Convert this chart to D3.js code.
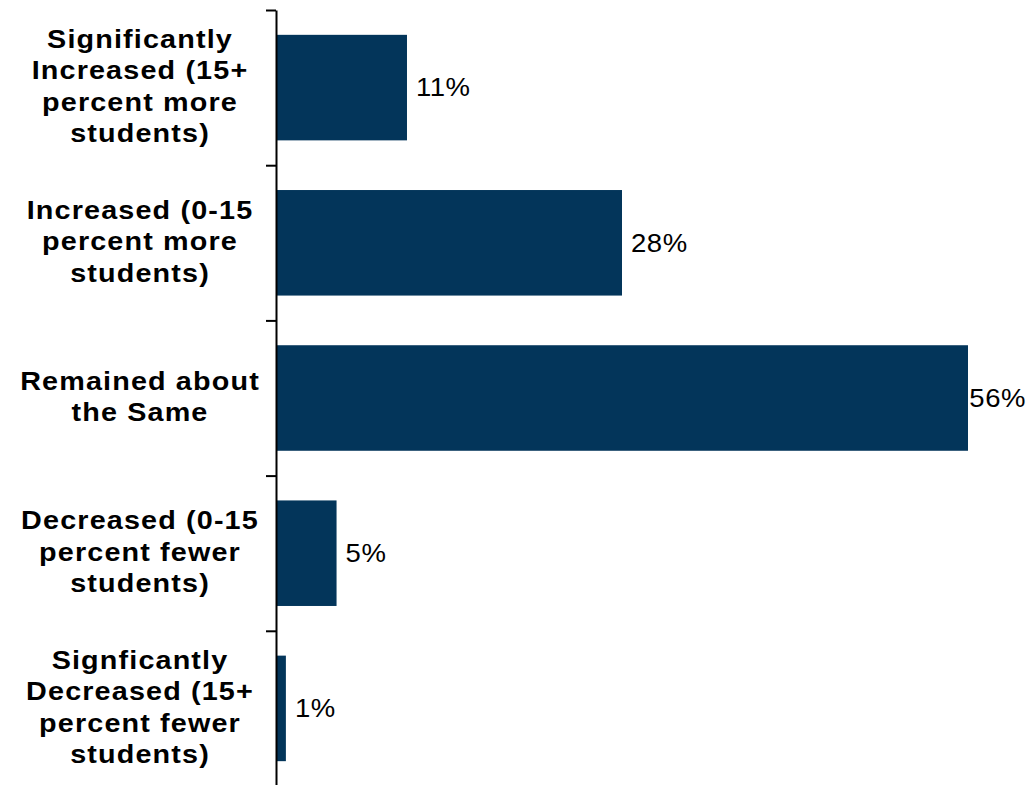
<!DOCTYPE html>
<html lang="en">
<head>
<meta charset="utf-8">
<title>Enrollment change</title>
<script src="https://cdn.jsdelivr.net/npm/d3@7"></script>
<style>
    body { margin: 0; background: white; }
    .cat { font-family: "Liberation Sans", Arial, sans-serif; font-weight: bold; font-size: 25px; letter-spacing: 1px; fill: #000; }
    .val { font-family: "Liberation Sans", Arial, sans-serif; font-size: 25px; letter-spacing: 0.5px; fill: #000; }
</style>
</head>
<body>
<div id="chart"></div>
<script>
    // categories (split into the lines they wrap to)
    var categories = [
        ["Significantly", "Increased (15+", "percent more", "students)"],
        ["Increased (0-15", "percent more", "students)"],
        ["Remained about", "the Same"],
        ["Decreased (0-15", "percent fewer", "students)"],
        ["Signficantly", "Decreased (15+", "percent fewer", "students)"]
    ];
    var values = [10.6, 28, 56, 4.9, 0.8];
    var valueLabels = ["11%", "28%", "56%", "5%", "1%"];

    var W = 1029, H = 785;
    var svg = d3.select("#chart").append("svg")
        .attr("width", W)
        .attr("height", H);

    var axisX = 276;
    var ids = d3.range(categories.length);
    var catStretch = 1.15, valStretch = 1.1;

    var x = d3.scaleLinear()
        .domain([0, 60])
        .range([axisX, axisX + 60 * 12.357]);

    var y = d3.scaleBand()
        .domain(ids)
        .range([10, 786])
        .paddingInner(0.32)
        .paddingOuter(0.16);

    // bars
    svg.selectAll("rect.bar")
        .data(ids)
      .enter().append("rect")
        .attr("class", "bar")
        .attr("x", x(0))
        .attr("y", function(i) { return y(i); })
        .attr("width", function(i) { return x(values[i]) - x(0); })
        .attr("height", y.bandwidth())
        .attr("fill", "#03355a");

    // axis with ticks between categories
    var yb = d3.scaleLinear().domain([0, categories.length]).range([10, 786]);
    var axis = svg.append("g")
        .attr("transform", "translate(" + axisX + ",0)")
        .call(d3.axisLeft(yb).tickValues(d3.range(categories.length + 1)).tickFormat("").tickSize(10).tickSizeOuter(0));
    axis.select(".domain").attr("stroke", "#000").attr("stroke-width", 2);
    axis.selectAll(".tick line").attr("stroke", "#000").attr("stroke-width", 2);

    // category labels (slightly stretched sideways like the original)
    var lineH = 31.3;
    ids.forEach(function(i) {
        var lines = categories[i];
        var cy = y(i) + y.bandwidth() / 2;
        var t = svg.append("text")
            .attr("class", "cat")
            .attr("text-anchor", "middle")
            .attr("transform", "translate(140,0) scale(" + catStretch + ",1)");
        lines.forEach(function(l, k) {
            t.append("tspan")
                .attr("x", 0)
                .attr("y", cy + (k - (lines.length - 1) / 2) * lineH)
                .attr("dy", "0.3em")
                .text(l);
        });
    });

    // value labels
    svg.selectAll("text.val")
        .data(ids)
      .enter().append("text")
        .attr("class", "val")
        .attr("dy", "0.35em")
        .text(function(i) { return valueLabels[i]; })
        .attr("transform", function(i) {
            var w = this.getComputedTextLength() * valStretch;
            var lx = Math.min(x(values[i]) + 9, W - w - 3);
            var ly = y(i) + y.bandwidth() / 2;
            return "translate(" + lx + "," + ly + ") scale(" + valStretch + ",1)";
        });
</script>
</body>
</html>
